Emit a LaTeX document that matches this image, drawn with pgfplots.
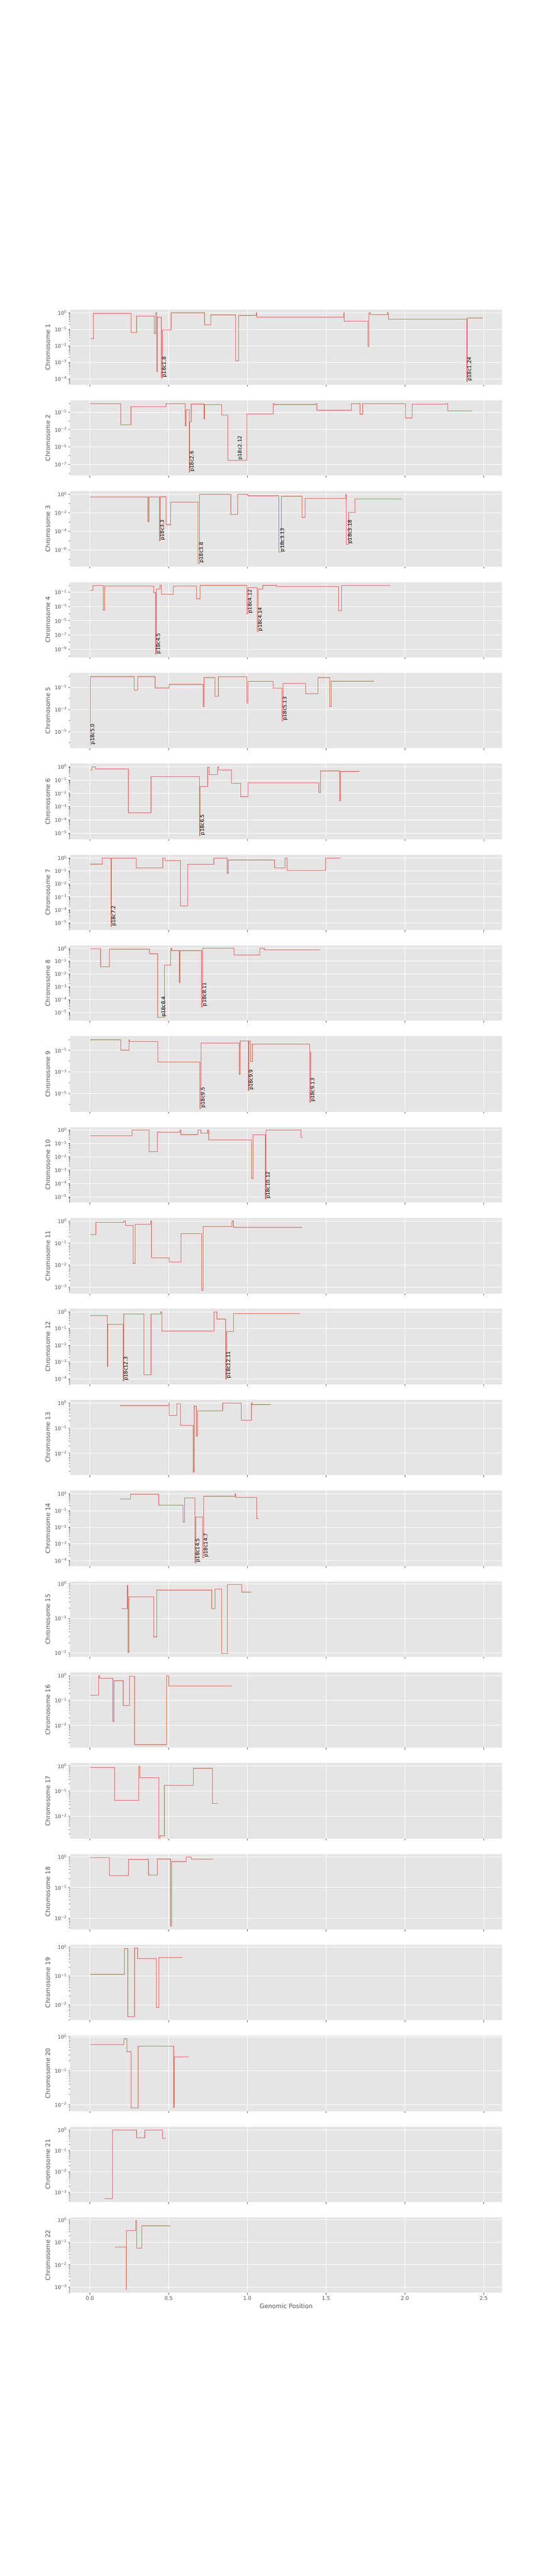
\documentclass[border=0pt]{standalone}
\usepackage{fontspec}
\setmainfont{DejaVu Sans}
\usepackage{pgfplots}
\pgfplotsset{compat=1.18}
\definecolor{ggred}{HTML}{E24A33}
\definecolor{axbg}{HTML}{E5E5E5}
\definecolor{tickgrey}{HTML}{555555}
\newcommand{\logtick}[1]{\pgfmathtruncatemacro{\myexp}{round(#1/2.302585093)}10\textsuperscript{\ifnum\myexp<0 −\number-\myexp\else\myexp\fi}}
\newcommand{\chrplot}[1]{%
  \addplot[const plot, draw=ggred, opacity=0.3, line width=1.3pt] coordinates {#1};
  \addplot[const plot, draw=ggred, opacity=0.75, line width=0.7pt] coordinates {#1};}
\pgfplotsset{every axis/.append style={
  width=11.74in, height=2.05in, scale only axis,
  xmin=-12.46, xmax=261.71,
  axis background/.style={fill=axbg},
  axis line style={draw=none},
  xtick={0,50,100,150,200,250},
  xticklabels={},
  grid=major, major grid style={draw=white, line width=0.8pt},
  tick align=outside, tick pos=left,
  major tick length=3.5pt, minor tick length=2pt,
  tick style={draw=tickgrey, line width=0.8pt},
  minor tick style={line width=0.6pt},
  yticklabel={\logtick{\tick}},
  tick label style={font=\fontsize{10}{12}\selectfont, text=tickgrey},
  ylabel style={font=\fontsize{12}{14}\selectfont, text=tickgrey, at={(axis description cs:-0.052,0.5)}, anchor=center},
  minor ytick={2e-11,3e-11,4e-11,5e-11,6e-11,7e-11,8e-11,9e-11,2e-10,3e-10,4e-10,5e-10,6e-10,7e-10,8e-10,9e-10,2e-9,3e-9,4e-9,5e-9,6e-9,7e-9,8e-9,9e-9,2e-8,3e-8,4e-8,5e-8,6e-8,7e-8,8e-8,9e-8,2e-7,3e-7,4e-7,5e-7,6e-7,7e-7,8e-7,9e-7,2e-6,3e-6,4e-6,5e-6,6e-6,7e-6,8e-6,9e-6,2e-5,3e-5,4e-5,5e-5,6e-5,7e-5,8e-5,9e-5,2e-4,3e-4,4e-4,5e-4,6e-4,7e-4,8e-4,9e-4,2e-3,3e-3,4e-3,5e-3,6e-3,7e-3,8e-3,9e-3,0.02,0.03,0.04,0.05,0.06,0.07,0.08,0.09,0.2,0.3,0.4,0.5,0.6,0.7,0.8,0.9},
 }}
\tikzset{lbl/.style={rotate=90, anchor=north west, inner sep=0.5pt, font=\fontsize{10}{12}\selectfont, text=black}}
\begin{document}
\begin{tikzpicture}
\path[use as bounding box] (0,0) rectangle (15in,-70in);

% Chr 1
\begin{semilogyaxis}[at={(1.91in,-10.457in)}, ymin=4.27e-5, ymax=1.585, ytick={1e-4,1e-3,1e-2,1e-1,1}, ylabel={Chromosome 1}]
\chrplot{(0.45,0.027) (2.3,0.92) (26.2,0.063) (29.6,0.63) (40.9,0.056) (41.8,1.0) (42.6,2.6e-4) (42.9,0.54) (45.3,1.15e-4) (45.9,0.09) (51.5,1.0) (72.7,0.18) (76.8,0.75) (92.6,1.2e-3) (94.4,0.69) (105.5,1.0) (106.0,0.54) (161.2,1.0) (161.6,0.31) (176.6,0.0089) (177.3,1.0) (178.2,0.77) (188.8,1.0) (189.7,0.41) (239.2,6.9e-5) (239.6,0.49) (249.5,0.49)}
\node[lbl] at (axis cs:45.6,1.15e-4) {p18c1.8};
\node[lbl] at (axis cs:239.4,6.9e-5) {p18c1.24};
\end{semilogyaxis}

% Chr 2
\begin{semilogyaxis}[at={(1.91in,-12.926in)}, ymin=5.01e-9, ymax=2.40, ytick={1e-7,1e-5,1e-3,1e-1}, minor ytick={1e-8,1e-6,1e-4,1e-2,1}, ylabel={Chromosome 2}]
\chrplot{(0,0.95) (19.6,0.0036) (26.0,0.42) (48.3,1.0) (60.4,0.0027) (61.0,0.19) (63.0,1.3e-8) (63.4,0.0078) (64.2,0.89) (72.4,0.017) (73.0,0.76) (83.7,0.046) (87.6,3e-7) (99.8,0.061) (116.4,1.0) (117.0,0.78) (143.2,1.0) (144.0,0.18) (166.1,1.0) (171.5,0.059) (173.1,0.95) (200.3,0.023) (204.6,0.83) (226.3,1.0) (227.1,0.15) (242.8,0.15)}
\node[lbl] at (axis cs:63.2,1.3e-8) {p18c2.6};
\node[lbl] at (axis cs:93.7,3e-7) {p18c2.12};
\end{semilogyaxis}

% Chr 3
\begin{semilogyaxis}[at={(1.91in,-15.395in)}, ymin=1.55e-8, ymax=2.24, ytick={1e-6,1e-4,1e-2,1}, minor ytick={1e-7,1e-5,1e-3,1e-1}, ylabel={Chromosome 3}]
\chrplot{(0,0.52) (36.8,0.0011) (37.4,0.52) (44.2,9.7e-6) (44.6,0.56) (48.3,5.6e-4) (51.3,0.15) (68.7,3.5e-8) (69.6,1.0) (89.4,0.0069) (93.9,1.0) (100.2,0.74) (119.9,5.6e-7) (121.5,0.63) (134.8,0.0033) (136.7,0.36) (162.5,1.0) (162.9,4.1e-6) (164.3,0.011) (168.4,0.33) (198.0,0.33)}
\node[lbl] at (axis cs:44.4,9.7e-6) {p18c3.3};
\node[lbl] at (axis cs:69.2,3.5e-8) {p18c3.8};
\node[lbl] at (axis cs:120.7,5.6e-7) {p18c3.13};
\node[lbl] at (axis cs:163.6,4.1e-6) {p18c3.18};
\end{semilogyaxis}

% Chr 4
\begin{semilogyaxis}[at={(1.91in,-17.864in)}, ymin=6.76e-11, ymax=2.88, ytick={1e-9,1e-7,1e-5,1e-3,1e-1}, minor ytick={1e-10,1e-8,1e-6,1e-4,1e-2,1}, ylabel={Chromosome 4}]
\chrplot{(0,0.21) (2.0,0.95) (8.6,3.3e-4) (9.4,0.79) (40.5,0.093) (41.7,1.9e-10) (42.1,0.29) (44.4,1.0) (45.4,0.051) (53.0,0.74) (67.7,0.013) (70.0,0.97) (99.8,1e-4) (100.4,0.49) (106.2,3e-7) (106.8,0.29) (109.7,1.0) (118.7,0.68) (157.9,2.6e-4) (159.8,0.95) (190.9,0.95)}
\node[lbl] at (axis cs:41.9,1.9e-10) {p18c4.5};
\node[lbl] at (axis cs:100.1,1e-4) {p18c4.12};
\node[lbl] at (axis cs:106.5,3e-7) {p18c4.14};
\end{semilogyaxis}

% Chr 5
\begin{semilogyaxis}[at={(1.91in,-20.333in)}, ymin=3.09e-7, ymax=2.04, ytick={1e-5,1e-3,1e-1}, minor ytick={1e-6,1e-4,1e-2,1}, ylabel={Chromosome 5}]
\chrplot{(0,6.2e-7) (0.4,0.95) (28.2,0.054) (30.3,0.97) (41.3,0.09) (50.3,0.19) (72.0,0.0019) (72.4,0.77) (79.4,0.016) (81.6,0.88) (99.6,0.0037) (100.4,0.34) (116.4,0.086) (121.9,9e-5) (122.5,0.23) (136.9,0.027) (144.8,0.77) (152.4,0.0019) (153.4,0.36) (180.6,0.36)}
\node[lbl] at (axis cs:0.2,6.2e-7) {p18c5.0};
\node[lbl] at (axis cs:122.2,9e-5) {p18c5.13};
\end{semilogyaxis}

% Chr 6
\begin{semilogyaxis}[at={(1.91in,-22.802in)}, ymin=3.55e-6, ymax=1.70, ytick={1e-5,1e-4,1e-3,1e-2,1e-1,1}, ylabel={Chromosome 6}]
\chrplot{(0,0.56) (1.4,1.0) (3.5,0.69) (24.3,3.4e-4) (38.7,0.18) (69.6,6.5e-6) (70.0,0.032) (74.7,0.94) (75.9,0.25) (81.0,1.0) (81.8,0.59) (90.0,0.056) (95.7,0.0058) (100.4,0.06) (145.3,0.011) (146.5,0.5) (158.5,0.0027) (159.0,0.46) (171.0,0.46)}
\node[lbl] at (axis cs:69.8,6.5e-6) {p18c6.5};
\end{semilogyaxis}

% Chr 7
\begin{semilogyaxis}[at={(1.91in,-25.271in)}, ymin=2.82e-6, ymax=1.84, ytick={1e-5,1e-4,1e-3,1e-2,1e-1,1}, ylabel={Chromosome 7}]
\chrplot{(0,0.34) (7.8,1.0) (13.3,5.1e-6) (13.7,0.97) (29.3,0.17) (46.2,1.0) (47.7,0.63) (57.5,2e-4) (62.2,0.33) (78.6,1.0) (87.1,0.066) (88.0,0.71) (117.2,0.17) (124.0,1.0) (125.2,0.108) (149.6,1.0) (150.6,0.96) (159.0,0.96)}
\node[lbl] at (axis cs:13.5,5.1e-6) {p18c7.2};
\end{semilogyaxis}

% Chr 8
\begin{semilogyaxis}[at={(1.91in,-27.740in)}, ymin=2.19e-6, ymax=1.70, ytick={1e-5,1e-4,1e-3,1e-2,1e-1,1}, ylabel={Chromosome 8}]
\chrplot{(0,0.94) (6.7,0.037) (12.3,0.89) (37.8,0.39) (43.0,4.1e-6) (47.3,0.047) (51.3,1.0) (51.8,0.67) (56.7,0.0021) (57.1,0.67) (70.8,2.8e-5) (71.6,1.0) (91.5,0.30) (107.9,1.0) (110.7,0.77) (146.1,0.77)}
\node[lbl] at (axis cs:45.1,4.1e-6) {p18c8.4};
\node[lbl] at (axis cs:71.2,2.8e-5) {p18c8.11};
\end{semilogyaxis}

% Chr 9
\begin{semilogyaxis}[at={(1.91in,-30.209in)}, ymin=2.04e-7, ymax=2.04, ytick={1e-5,1e-3,1e-1}, minor ytick={1e-6,1e-4,1e-2,1}, ylabel={Chromosome 9}]
\chrplot{(0,1.0) (19.6,0.11) (24.8,1.0) (25.2,0.66) (43.2,0.0083) (69.8,4.2e-7) (70.6,0.48) (94.9,6e-4) (95.3,0.76) (100.5,1.9e-5) (100.9,0.77) (101.9,0.0089) (103.1,0.4) (139.7,1.5e-6) (140.1,0.066) (140.8,0.066)}
\node[lbl] at (axis cs:70.2,4.2e-7) {p18c9.5};
\node[lbl] at (axis cs:100.7,1.9e-5) {p18c9.9};
\node[lbl] at (axis cs:139.9,1.5e-6) {p18c9.13};
\end{semilogyaxis}

% Chr 10
\begin{semilogyaxis}[at={(1.91in,-32.678in)}, ymin=3.80e-6, ymax=1.66, ytick={1e-5,1e-4,1e-3,1e-2,1e-1,1}, ylabel={Chromosome 10}]
\chrplot{(0,0.37) (26.8,0.98) (37.6,0.024) (42.8,0.68) (57.3,1.0) (57.7,0.47) (68.7,1.0) (70.4,0.58) (74.7,1.0) (75.3,0.19) (102.7,2.5e-4) (103.7,0.44) (111.3,6.8e-6) (111.7,0.98) (134.0,0.28) (135.2,0.28)}
\node[lbl] at (axis cs:111.5,6.8e-6) {p18c10.12};
\end{semilogyaxis}

% Chr 11
\begin{semilogyaxis}[at={(1.91in,-35.147in)}, ymin=5.13e-4, ymax=1.38, ytick={1e-3,1e-2,1e-1,1}, ylabel={Chromosome 11}]
\chrplot{(0,0.24) (3.7,0.89) (21.5,1.0) (22.5,0.63) (27.4,0.012) (28.8,0.71) (38.5,1.0) (39.1,0.021) (50.3,0.014) (57.9,0.27) (71.0,7.2e-4) (72.0,0.56) (90.2,1.0) (91.0,0.53) (135.0,0.53)}
\end{semilogyaxis}

% Chr 12
\begin{semilogyaxis}[at={(1.91in,-37.616in)}, ymin=4.68e-5, ymax=1.51, ytick={1e-4,1e-3,1e-2,1e-1,1}, ylabel={Chromosome 12}]
\chrplot{(0,0.60) (11.0,5.4e-4) (11.4,0.18) (21.1,7.4e-5) (21.4,0.74) (34.4,1.7e-4) (38.7,0.74) (44.9,1.0) (45.8,0.07) (78.8,1.0) (80.6,0.38) (86.1,1.0e-4) (86.8,0.065) (91.1,0.81) (133.7,0.81)}
\node[lbl] at (axis cs:21.25,7.4e-5) {p18c12.3};
\node[lbl] at (axis cs:86.45,1e-4) {p18c12.11};
\end{semilogyaxis}

% Chr 13
\begin{semilogyaxis}[at={(1.91in,-40.085in)}, ymin=1.35e-3, ymax=1.34, ytick={1e-2,1e-1,1}, ylabel={Chromosome 13}]
\chrplot{(19.1,0.79) (50.2,1.0) (50.4,0.32) (55.2,0.92) (57.5,0.13) (65.5,0.0018) (66.2,0.76) (67.5,0.049) (68.3,0.48) (84.2,0.97) (96.1,0.21) (102.5,1.0) (102.9,0.87) (115.0,0.87)}
\end{semilogyaxis}

% Chr 14
\begin{semilogyaxis}[at={(1.91in,-42.554in)}, ymin=4.68e-5, ymax=1.585, ytick={1e-4,1e-3,1e-2,1e-1,1}, ylabel={Chromosome 14}]
\chrplot{(19.1,0.50) (25.7,0.97) (43.6,0.21) (59.1,0.021) (60.1,0.56) (66.6,7.4e-5) (67.2,0.04) (71.7,1.5e-4) (72.3,0.74) (92.1,1.0) (92.6,0.62) (105.9,0.034) (107.2,0.034)}
\node[lbl] at (axis cs:66.9,7.4e-5) {p18c14.5};
\node[lbl] at (axis cs:72.0,1.5e-4) {p18c14.7};
\end{semilogyaxis}

% Chr 15
\begin{semilogyaxis}[at={(1.91in,-45.023in)}, ymin=7.59e-3, ymax=1.175, ytick={1e-2,1e-1,1}, ylabel={Chromosome 15}]
\chrplot{(20.0,0.19) (23.7,0.91) (24.2,0.0102) (24.7,0.42) (40.6,0.029) (42.4,0.67) (77.3,0.19) (79.5,0.70) (83.7,0.0096) (87.3,0.95) (96.4,0.58) (102.4,0.58)}
\end{semilogyaxis}

% Chr 16
\begin{semilogyaxis}[at={(1.91in,-47.492in)}, ymin=1.26e-3, ymax=1.35, ytick={1e-2,1e-1,1}, ylabel={Chromosome 16}]
\chrplot{(0,0.16) (5.6,1.0) (6.0,0.78) (14.5,0.0146) (15.4,0.63) (21.1,0.062) (25.1,0.94) (28.3,0.0017) (48.6,0.97) (50.0,0.38) (90.2,0.38)}
\end{semilogyaxis}

% Chr 17
\begin{semilogyaxis}[at={(1.91in,-49.961in)}, ymin=1.29e-3, ymax=1.30, ytick={1e-2,1e-1,1}, ylabel={Chromosome 17}]
\chrplot{(0,0.88) (15.6,0.043) (31.0,0.97) (31.6,0.34) (43.7,1e-4) (44.5,0.0017) (47.2,0.17) (65.6,0.82) (77.8,0.032) (81.3,0.032)}
\end{semilogyaxis}

% Chr 18
\begin{semilogyaxis}[at={(1.91in,-52.430in)}, ymin=4.27e-3, ymax=1.26, ytick={1e-2,1e-1,1}, ylabel={Chromosome 18}]
\chrplot{(0,0.97) (12.3,0.25) (24.6,0.84) (37.1,0.26) (42.9,0.88) (51.2,0.0055) (52.0,0.72) (61.2,1.0) (64.4,0.86) (78.2,0.86)}
\end{semilogyaxis}

% Chr 19
\begin{semilogyaxis}[at={(1.91in,-54.899in)}, ymin=2.88e-3, ymax=1.21, ytick={1e-2,1e-1,1}, ylabel={Chromosome 19}]
\chrplot{(0.25,0.115) (22.0,0.91) (24.0,0.0038) (28.3,0.95) (30.2,0.40) (42.2,0.0081) (43.7,0.44) (59.1,0.44)}
\end{semilogyaxis}

% Chr 20
\begin{semilogyaxis}[at={(1.91in,-57.368in)}, ymin=6.46e-3, ymax=1.08, ytick={1e-2,1e-1,1}, ylabel={Chromosome 20}]
\chrplot{(0,0.60) (21.6,0.89) (23.6,0.37) (26.2,0.0081) (30.6,0.54) (53.1,0.0085) (53.4,0.256) (63.0,0.256)}
\end{semilogyaxis}

% Chr 21
\begin{semilogyaxis}[at={(1.91in,-59.837in)}, ymin=3.47e-4, ymax=1.43, ytick={1e-3,1e-2,1e-1,1}, ylabel={Chromosome 21}]
\chrplot{(9.4,5e-4) (14.4,0.96) (29.3,1.0) (29.6,0.42) (34.8,0.98) (46.0,0.39) (48.3,0.39)}
\end{semilogyaxis}

% Chr 22
\begin{semilogyaxis}[at={(1.91in,-62.306in)}, ymin=5.50e-4, ymax=1.29, ytick={1e-3,1e-2,1e-1,1}, ylabel={Chromosome 22},
  xticklabels={0.0,0.5,1.0,1.5,2.0,2.5}, xlabel={Genomic Position},
  xlabel style={font=\fontsize{12}{14}\selectfont, text=tickgrey}]
\chrplot{(16.0,0.062) (23.0,7.8e-4) (23.3,0.34) (29.1,0.94) (29.8,0.055) (33.0,0.55) (51.3,0.55)}
\node[anchor=north east, inner sep=0pt, font=\fontsize{10}{12}\selectfont, text=tickgrey] at (rel axis cs:1,0) [yshift=-18pt] {1e8};
\end{semilogyaxis}

\end{tikzpicture}
\end{document}
